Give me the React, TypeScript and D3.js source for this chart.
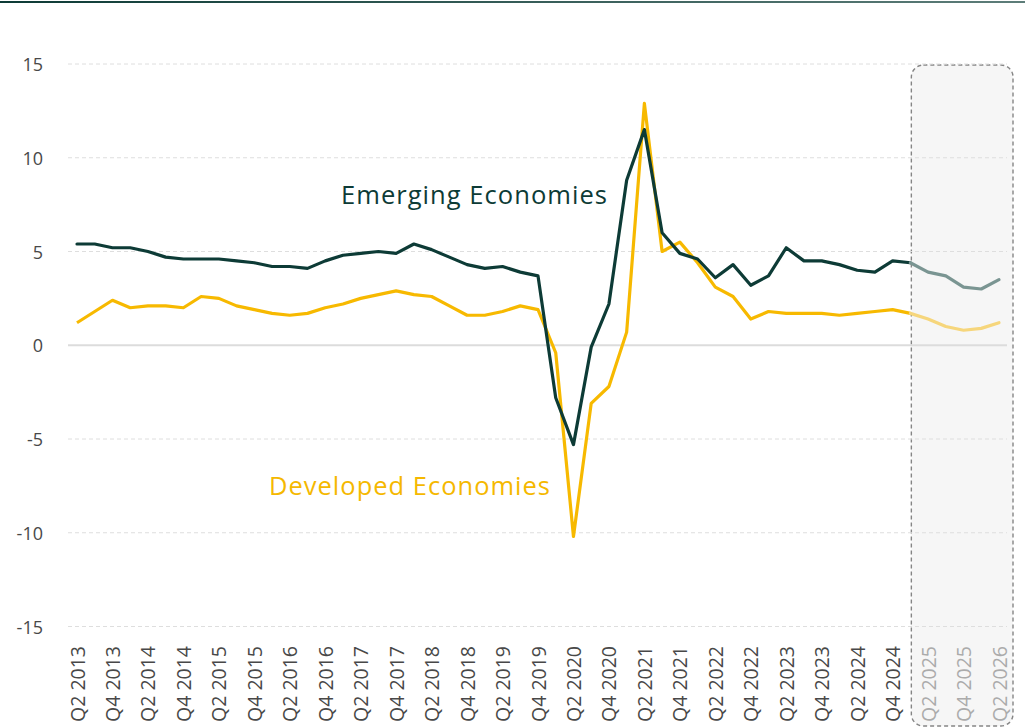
import React from 'react';
import * as d3 from 'd3';

const quarters = [
  'Q2 2013', 'Q3 2013', 'Q4 2013', 'Q1 2014', 'Q2 2014', 'Q3 2014', 'Q4 2014', 'Q1 2015',
  'Q2 2015', 'Q3 2015', 'Q4 2015', 'Q1 2016', 'Q2 2016', 'Q3 2016', 'Q4 2016', 'Q1 2017',
  'Q2 2017', 'Q3 2017', 'Q4 2017', 'Q1 2018', 'Q2 2018', 'Q3 2018', 'Q4 2018', 'Q1 2019',
  'Q2 2019', 'Q3 2019', 'Q4 2019', 'Q1 2020', 'Q2 2020', 'Q3 2020', 'Q4 2020', 'Q1 2021',
  'Q2 2021', 'Q3 2021', 'Q4 2021', 'Q1 2022', 'Q2 2022', 'Q3 2022', 'Q4 2022', 'Q1 2023',
  'Q2 2023', 'Q3 2023', 'Q4 2023', 'Q1 2024', 'Q2 2024', 'Q3 2024', 'Q4 2024', 'Q1 2025',
  'Q2 2025', 'Q3 2025', 'Q4 2025', 'Q1 2026', 'Q2 2026',
];

const emerging = [
  5.4, 5.4, 5.2, 5.2, 5.0, 4.7, 4.6, 4.6, 4.6, 4.5, 4.4, 4.2, 4.2, 4.1, 4.5, 4.8,
  4.9, 5.0, 4.9, 5.4, 5.1, 4.7, 4.3, 4.1, 4.2, 3.9, 3.7, -2.8, -5.3, -0.1, 2.2, 8.8,
  11.5, 6.0, 4.9, 4.6, 3.6, 4.3, 3.2, 3.7, 5.2, 4.5, 4.5, 4.3, 4.0, 3.9, 4.5, 4.4,
  3.9, 3.7, 3.1, 3.0, 3.5,
];

const developed = [
  1.2, 1.8, 2.4, 2.0, 2.1, 2.1, 2.0, 2.6, 2.5, 2.1, 1.9, 1.7, 1.6, 1.7, 2.0, 2.2,
  2.5, 2.7, 2.9, 2.7, 2.6, 2.1, 1.6, 1.6, 1.8, 2.1, 1.9, -0.4, -10.2, -3.1, -2.2, 0.7,
  12.9, 5.0, 5.5, 4.4, 3.1, 2.6, 1.4, 1.8, 1.7, 1.7, 1.7, 1.6, 1.7, 1.8, 1.9, 1.7,
  1.4, 1.0, 0.8, 0.9, 1.2,
];

const yTicks = [15, 10, 5, 0, -5, -10, -15];
const forecastStart = 'Q1 2025';

const W = 1025;
const H = 728;

export default function App() {
  const x = d3.scalePoint<string>().domain(quarters).range([77, 999]);
  const y = d3.scaleLinear().domain([-15, 15]).range([626.5, 64]);
  const fi = quarters.indexOf(forecastStart);
  const last = quarters.length - 1;

  // piece of a series between two quarter indexes
  const seg = (vals: number[], from: number, to: number) =>
    d3.line<[string, number]>()
      .x((d) => x(d[0]) as number)
      .y((d) => y(d[1]))(quarters.slice(from, to + 1).map((q, k) => [q, vals[from + k]])) || '';

  const labelQs = quarters.filter((q) => q.startsWith('Q2') || q.startsWith('Q4'));
  const boxLeft = (x(forecastStart) as number) + 1;
  const boxRight = (x(quarters[last]) as number) + 14;

  return (
    <svg width={W} height={H} style={{ position: 'absolute', left: 0, top: 0 }}
      fontFamily="'Open Sans', 'Noto Sans', sans-serif">
      <defs>
        <linearGradient id="topline" x1="0" x2="1" y1="0" y2="0">
          <stop offset="0" stopColor="#0d3b36" />
          <stop offset="1" stopColor="#5d7d79" />
        </linearGradient>
      </defs>
      <rect x={0} y={0} width={W} height={H} fill="#fff" />
      <rect x={0} y={1} width={W} height={2} fill="url(#topline)" />

      <rect x={boxLeft} y={65} width={boxRight - boxLeft} height={661} rx={12} ry={12}
        fill="#f6f6f6" stroke="#858585" strokeWidth={1.4} strokeDasharray="4,3" />

      {yTicks.map((t) => (
        <g key={t}>
          <line x1={68} x2={1007} y1={y(t)} y2={y(t)}
            stroke={t === 0 ? '#dcdcdc' : '#dedede'}
            strokeWidth={t === 0 ? 1.8 : 1}
            strokeDasharray={t === 0 ? undefined : '4,3'} />
          <text x={43} y={y(t)} textAnchor="end" dominantBaseline="central"
            fontSize={18} fill="#484848">{t}</text>
        </g>
      ))}

      {labelQs.map((q) => (
        <text key={q} transform={`translate(${x(q)},722) rotate(-90)`}
          dominantBaseline="central" fontSize={19.5}
          fill={quarters.indexOf(q) >= fi ? '#ababab' : '#484848'}>{q}</text>
      ))}

      <path d={seg(developed, 0, fi)} fill="none" stroke="#f7b900" strokeWidth={3.2} strokeLinejoin="round" />
      <path d={seg(developed, fi, last)} fill="none" stroke="#f6d67c" strokeWidth={3.2} strokeLinecap="round" strokeLinejoin="round" />
      <path d={seg(emerging, 0, fi)} fill="none" stroke="#0d3b36" strokeWidth={3.2} strokeLinejoin="round" strokeLinecap="round" />
      <path d={seg(emerging, fi, last)} fill="none" stroke="#7a9592" strokeWidth={3.2} strokeLinecap="round" strokeLinejoin="round" />

      <text x={341} y={204} fontSize={25} fill="#0d3b36" letterSpacing={1}
        textLength={267} lengthAdjust="spacingAndGlyphs">Emerging Economies</text>
      <text x={269} y={495} fontSize={25} fill="#f5b800" letterSpacing={1}
        textLength={282} lengthAdjust="spacingAndGlyphs">Developed Economies</text>
    </svg>
  );
}
